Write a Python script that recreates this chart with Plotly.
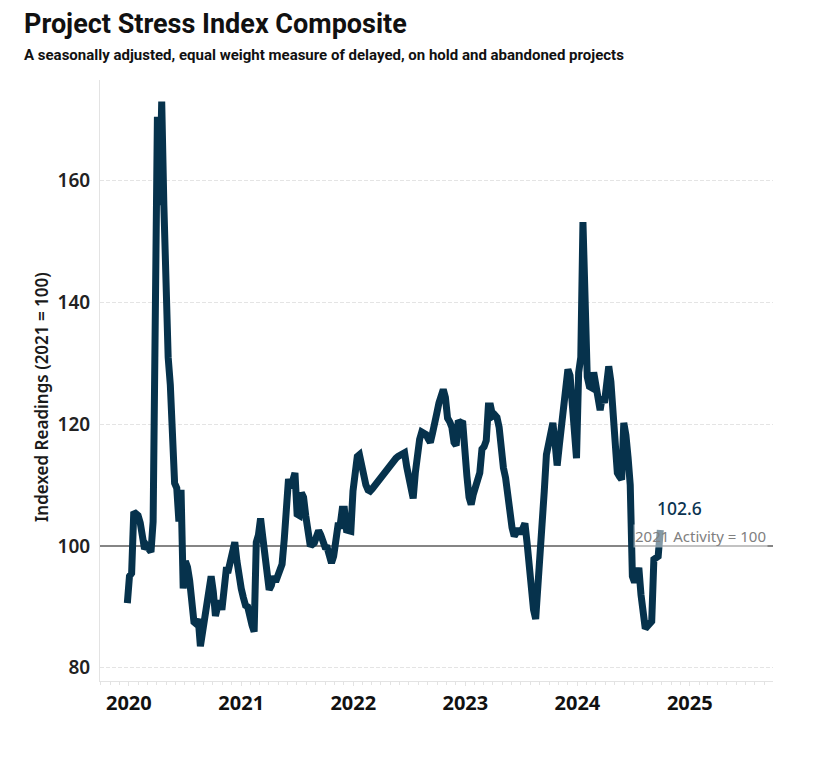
import pandas as pd
import plotly.graph_objects as go

# ---- data (weekly readings) ----
start_date = "2019-12-27"
index_values = [
    90.6, 95.0, 95.5, 105.6, 105.3, 105.0, 103.8, 101.0, 99.5, 100.0,
    99.2, 99.0, 104.0, 135.0, 170.5, 156.0, 173.0, 156.0, 141.0, 131.0,
    126.5, 120.0, 110.3, 109.5, 104.0, 109.2, 93.0, 97.5, 96.5, 94.3,
    89.5, 87.5, 87.2, 88.0, 83.5, 86.0, 88.0, 90.5, 94.0, 95.0,
    92.5, 88.5, 90.0, 91.0, 89.5, 93.5, 96.0, 96.0, 98.0, 100.0,
    100.6, 97.5, 94.2, 93.0, 91.5, 90.2, 90.0, 88.0, 87.0, 85.9,
    100.6, 101.8, 104.5, 101.5, 98.5, 94.5, 92.8, 93.5, 95.0, 94.1,
    95.0, 95.8, 97.0, 101.0, 108.5, 111.0, 109.5, 111.0, 112.0, 105.2,
    105.0, 108.7, 108.0, 105.0, 101.5, 100.3, 100.2, 100.5, 101.5, 102.5,
    101.8, 100.3, 99.8, 99.7, 98.5, 97.2, 98.3, 101.5, 103.3, 103.3,
    106.0, 106.0, 102.6, 102.5, 102.4, 109.0, 112.8, 114.7, 115.0, 113.0,
    111.5, 110.0, 109.2, 109.0, 109.4, 109.9, 110.3, 110.7, 111.0, 111.4,
    112.0, 112.6, 113.3, 113.7, 114.0, 114.4, 114.7, 114.9, 115.1, 115.3,
    113.0, 110.7, 108.8, 107.8, 112.0, 115.8, 117.5, 118.7, 118.5, 118.3,
    117.6, 117.0, 118.5, 121.2, 121.8, 123.5, 124.8, 125.7, 124.4, 121.0,
    120.4, 119.5, 117.0, 116.5, 120.6, 120.2, 120.5, 113.5, 111.5, 108.0,
    106.8, 108.5, 109.5, 110.7, 112.0, 115.9, 116.3, 117.3, 123.0, 123.0,
    121.3, 121.5, 121.1, 119.5, 114.1, 112.8, 111.2, 108.0, 106.2, 103.0,
    101.6, 102.2, 102.8, 102.0, 103.3, 103.7, 100.5, 96.5, 92.7, 89.5,
    88.0, 93.0, 95.5, 102.0, 109.0, 115.0, 116.9, 118.0, 120.2, 117.0,
    113.2, 116.5, 120.3, 121.0, 126.5, 129.0, 128.0, 122.5, 118.0, 114.4,
    128.5, 131.0, 153.2, 141.5, 127.8, 126.2, 126.0, 128.5, 126.0, 124.5,
    122.3, 124.5, 123.5, 126.5, 129.5, 127.0, 123.0, 118.5, 112.0, 111.4,
    110.9, 120.2, 118.2, 114.5, 110.0, 95.0, 94.0, 95.0, 96.4, 92.0,
    88.5, 86.4, 86.8, 87.3, 87.6, 97.8, 98.0, 98.3, 102.6,
]
dates = pd.date_range(start=start_date, periods=len(index_values), freq="7D")

x_range = ["2019-09-29", "2025-09-29"]
year_ticks = ["2020-01-01", "2021-01-01", "2022-01-01", "2023-01-01", "2024-01-01", "2025-01-01"]
year_labels = ["2020", "2021", "2022", "2023", "2024", "2025"]
y_ticks = [80, 100, 120, 140, 160]
baseline = 100
last_label = "102.6"
baseline_label = "2021 Activity = 100"
title_text = "Project Stress Index Composite"
subtitle_text = "A seasonally adjusted, equal weight measure of delayed, on hold and abandoned projects"
y_title = "Indexed Readings (2021 = 100)"

LINE = "#06324c"
GRID = "#e4e4e4"
BASE = "Noto Sans, Open Sans, sans-serif"
NARROW = "Liberation Sans Narrow, Roboto, sans-serif"

fig = go.Figure()
# reference line at 2021 activity (drawn under the data line, above the grid)
fig.add_trace(go.Scatter(
    x=x_range, y=[baseline, baseline], mode="lines",
    line=dict(color="#858585", width=2),
    hoverinfo="skip", showlegend=False,
))
fig.add_trace(go.Scatter(
    x=dates, y=index_values, mode="lines",
    line=dict(color=LINE, width=7),
    hoverinfo="skip", showlegend=False,
))

fig.update_layout(
    width=818, height=773,
    margin=dict(l=100, r=45, t=80, b=92),
    paper_bgcolor="white", plot_bgcolor="white",
    showlegend=False,
    font=dict(family=BASE, color="#1a1a1a"),
)

fig.update_xaxes(
    type="date",
    range=x_range,
    tickvals=year_ticks, ticktext=year_labels,
    tickfont=dict(family=BASE, size=20, color="#111111", weight="bold"),
    showgrid=False, zeroline=False,
    showline=True, linecolor="#e3e3e3", linewidth=1,
    ticks="outside", ticklen=4, tickcolor="#e3e3e3",
    ticklabelstandoff=0,
    minor=dict(dtick="M1", tick0="2020-01-01", ticks="outside", ticklen=3, tickcolor="#e3e3e3", showgrid=False),
)

fig.update_yaxes(
    range=[77.8, 176.55],
    tickvals=y_ticks, ticktext=[str(v) for v in y_ticks],
    tickfont=dict(family=BASE, size=19, color="#222222", weight=600),
    showgrid=True, gridcolor=GRID, gridwidth=1, griddash="4px,2px",
    zeroline=False,
    showline=True, linecolor="#e3e3e3", linewidth=1,
    ticks="", ticklabelstandoff=5,
)

# y-axis title (placed as in the reference, slightly below the plot centre)
fig.add_annotation(xref="paper", yref="paper", x=(41 - 100) / 673, y=(681 - 397) / 601,
                   xanchor="center", yanchor="middle", showarrow=False, textangle=-90,
                   text=y_title, font=dict(family=BASE, size=17, color="#1a1a1a", weight=600))

# titles
fig.add_annotation(xref="paper", yref="paper", x=(22 - 100) / 673, y=(681 - 24) / 601,
                   xanchor="left", yanchor="middle", showarrow=False,
                   text=title_text, font=dict(family=NARROW, size=27, color="#111111", weight="bold"))
fig.add_annotation(xref="paper", yref="paper", x=(22 - 100) / 673, y=(681 - 55) / 601,
                   xanchor="left", yanchor="middle", showarrow=False,
                   text=subtitle_text, font=dict(family=NARROW, size=15, color="#111111", weight="bold"))

# baseline label (semi-transparent background lightens the line beneath it)
fig.add_annotation(xref="paper", yref="y", x=0.9926, y=baseline, yshift=10,
                   xanchor="right", yanchor="middle", showarrow=False,
                   text=baseline_label, bgcolor="rgba(255,255,255,0.5)", borderpad=1,
                   font=dict(family=BASE, size=15, color="#808080"))

# last value label
fig.add_annotation(xref="x", yref="y", x=dates[-1], y=index_values[-1],
                   xshift=19, yshift=22, xanchor="center", yanchor="middle", showarrow=False,
                   text=last_label, font=dict(family=BASE, size=17.5, color="#0b3350", weight=500))

fig.write_html("out.html", config={"displayModeBar": False},
               post_script="document.body.style.margin='0px';")
